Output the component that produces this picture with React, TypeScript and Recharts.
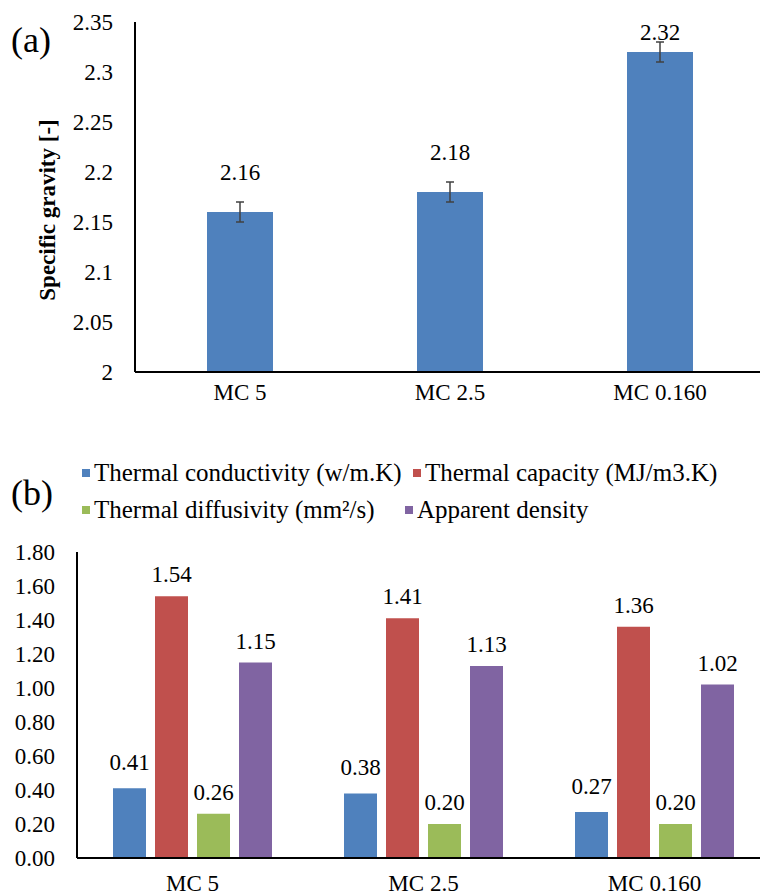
import React from "react";
import {
  BarChart,
  Bar,
  XAxis,
  YAxis,
  ErrorBar,
  LabelList,
  Legend,
} from "recharts";

const categories = ["MC 5", "MC 2.5", "MC 0.160"];

// (a) specific gravity
const specificGravity = [2.16, 2.18, 2.32];
const gravityError = [0.01, 0.01, 0.01];
const gravityTicks = [2, 2.05, 2.1, 2.15, 2.2, 2.25, 2.3, 2.35];

// (b) thermal properties
const conductivity = [0.41, 0.38, 0.27];
const capacity = [1.54, 1.41, 1.36];
const diffusivity = [0.26, 0.2, 0.2];
const density = [1.15, 1.13, 1.02];
const thermalTicks = [0, 0.2, 0.4, 0.6, 0.8, 1.0, 1.2, 1.4, 1.6, 1.8];

const seriesNames = [
  "Thermal conductivity (w/m.K)",
  "Thermal capacity (MJ/m3.K)",
  "Thermal diffusivity (mm²/s)",
  "Apparent density",
];
const seriesKeys = ["conductivity", "capacity", "diffusivity", "density"];
const seriesColors = ["#4F81BD", "#C0504D", "#9BBB59", "#8064A2"];

const FONT = "Liberation Serif";

const gravityData = categories.map((name, i) => ({
  name,
  value: specificGravity[i],
  err: gravityError[i],
}));

const thermalData = categories.map((name, i) => ({
  name,
  conductivity: conductivity[i],
  capacity: capacity[i],
  diffusivity: diffusivity[i],
  density: density[i],
}));

const tickStyle = { fill: "#000", fontSize: 23, fontFamily: FONT };
const frame = { stroke: "#000", strokeWidth: 2 };

const GravityLabel = (props: any) => {
  const { x, y, width, value } = props;
  // excel keeps the label inside the plot area
  const cy = Math.max(y - 40, 32);
  return (
    <text
      x={x + width / 2}
      y={cy}
      textAnchor="middle"
      dominantBaseline="central"
      fontSize={23}
      fontFamily={FONT}
      fill="#000"
    >
      {value}
    </text>
  );
};

const GravityAxisLabel = (props: any) => {
  const { viewBox } = props;
  const x = viewBox.x + 47;
  const y = viewBox.y + viewBox.height / 2 + 13;
  return (
    <text
      x={x}
      y={y}
      transform={`rotate(-90, ${x}, ${y})`}
      textAnchor="middle"
      dominantBaseline="central"
      fontSize={23}
      fontWeight="bold"
      fontFamily={FONT}
      fill="#000"
    >
      Specific gravity [-]
    </text>
  );
};

const LegendItem = ({ i, width }: { i: number; width?: number }) => (
  <div
    style={{
      display: "flex",
      alignItems: "center",
      whiteSpace: "nowrap",
      width,
    }}
  >
    <span
      style={{
        width: 8,
        height: 8,
        background: seriesColors[i],
        marginRight: 4,
        display: "inline-block",
      }}
    />
    {seriesNames[i]}
  </div>
);

const ThermalLegend = () => (
  <div
    style={{
      height: 88,
      boxSizing: "border-box",
      paddingTop: 14,
      paddingLeft: 82,
      fontFamily: FONT,
      fontSize: 25,
      color: "#000",
    }}
  >
    <div style={{ display: "flex", height: 37 }}>
      <LegendItem i={0} width={331} />
      <LegendItem i={1} />
    </div>
    <div style={{ display: "flex", height: 37 }}>
      <LegendItem i={2} width={323} />
      <LegendItem i={3} />
    </div>
  </div>
);

const panelTag: React.CSSProperties = {
  position: "absolute",
  left: 11,
  fontSize: 36,
  lineHeight: "44px",
  fontFamily: FONT,
  color: "#000",
};

export default function App() {
  return (
    <div
      style={{
        position: "absolute",
        left: 0,
        top: 0,
        width: 760,
        height: 896,
        overflow: "hidden",
        background: "#fff",
        fontFamily: FONT,
      }}
    >
      <div style={{ position: "absolute", left: 0, top: 0 }}>
        <BarChart
          width={780}
          height={420}
          data={gravityData}
          margin={{ top: 22, right: 15, bottom: 8, left: 0 }}
        >
          <XAxis
            dataKey="name"
            height={40}
            tickSize={0}
            tickMargin={12}
            tick={tickStyle}
            axisLine={frame}
          />
          <XAxis
            xAxisId="top"
            dataKey="name"
            orientation="top"
            height={0}
            tick={false}
            tickLine={false}
            axisLine={frame}
          />
          <YAxis
            width={135}
            domain={[2, 2.35]}
            ticks={gravityTicks}
            tickFormatter={(v: number) => String(v)}
            tickSize={0}
            tickMargin={22}
            tick={tickStyle}
            axisLine={frame}
            label={<GravityAxisLabel />}
          />
          <YAxis
            yAxisId="right"
            orientation="right"
            width={0}
            domain={[0, 1]}
            tick={false}
            tickLine={false}
            axisLine={frame}
          />
          <Bar
            dataKey="value"
            fill="#4F81BD"
            barSize={66}
            isAnimationActive={false}
          >
            <ErrorBar
              dataKey="err"
              width={4}
              stroke="#404040"
              strokeWidth={1.5}
              direction="y"
            />
            <LabelList dataKey="value" content={<GravityLabel />} />
          </Bar>
        </BarChart>
      </div>
      <div style={{ ...panelTag, top: 18 }}>(a)</div>

      <div style={{ position: "absolute", left: 0, top: 440 }}>
        <BarChart
          width={780}
          height={456}
          data={thermalData}
          margin={{ top: 24, right: 10, bottom: 0, left: 0 }}
          barSize={33}
          barGap={9}
        >
          <Legend
            verticalAlign="top"
            align="left"
            wrapperStyle={{ top: 0, left: 0, width: 760 }}
            content={<ThermalLegend />}
          />
          <XAxis
            dataKey="name"
            height={38}
            tickSize={0}
            tickMargin={17}
            tick={tickStyle}
            axisLine={frame}
          />
          <XAxis
            xAxisId="top"
            dataKey="name"
            orientation="top"
            height={0}
            tick={false}
            tickLine={false}
            axisLine={frame}
          />
          <YAxis
            width={77}
            domain={[0, 1.8]}
            ticks={thermalTicks}
            tickFormatter={(v: number) => v.toFixed(2)}
            tickSize={0}
            tickMargin={22}
            tick={tickStyle}
            axisLine={frame}
          />
          <YAxis
            yAxisId="right"
            orientation="right"
            width={0}
            domain={[0, 1]}
            tick={false}
            tickLine={false}
            axisLine={frame}
          />
          {seriesKeys.map((key, i) => (
            <Bar
              key={key}
              dataKey={key}
              name={seriesNames[i]}
              fill={seriesColors[i]}
              isAnimationActive={false}
            >
              <LabelList
                dataKey={key}
                position="top"
                offset={i === 0 ? 18 : 14}
                formatter={(v: any) => Number(v).toFixed(2)}
                style={{ fontSize: 23, fontFamily: FONT, fill: "#000" }}
              />
            </Bar>
          ))}
        </BarChart>
      </div>
      <div style={{ ...panelTag, top: 471 }}>(b)</div>
    </div>
  );
}
